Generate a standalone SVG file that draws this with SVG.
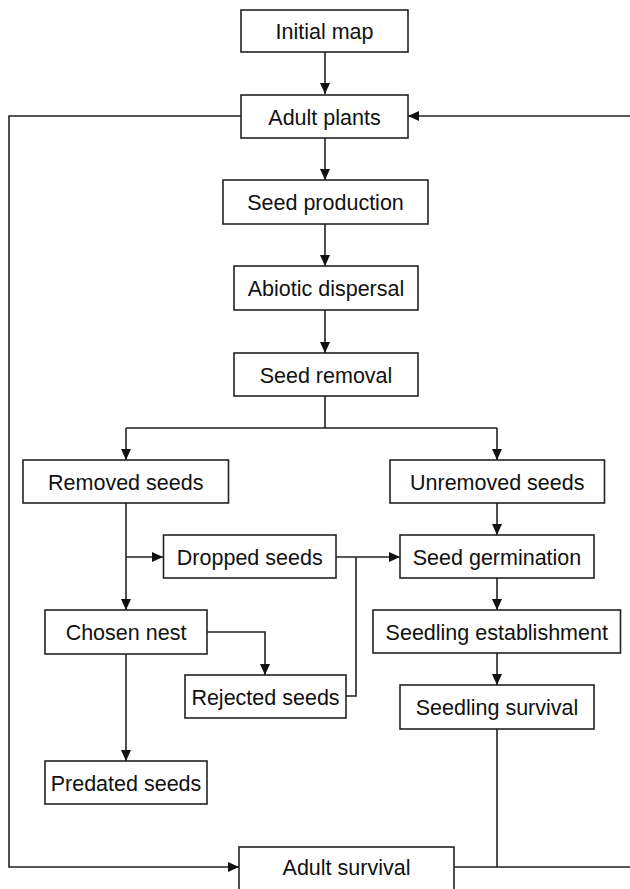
<svg xmlns="http://www.w3.org/2000/svg" width="630" height="889" viewBox="0 0 630 889">
<style>
.box{fill:#fff;stroke:#222;stroke-width:1.6}
.lbl{font-family:"Liberation Sans",Arial,sans-serif;font-size:21.5px;fill:#111;text-anchor:middle}
.con{fill:none;stroke:#222;stroke-width:1.6}
</style>
<defs>
<marker id="ah" markerUnits="userSpaceOnUse" markerWidth="12" markerHeight="11" refX="11" refY="5" orient="auto">
<path d="M0,0 L11,5 L0,10 z" fill="#111"/>
</marker>
</defs>
<rect width="630" height="889" fill="#fff"/>
<g id="connectors">
<path class="con" d="M325,52 V94" marker-end="url(#ah)"/>
<path class="con" d="M325,138 V180" marker-end="url(#ah)"/>
<path class="con" d="M325,224 V266" marker-end="url(#ah)"/>
<path class="con" d="M325,310 V353" marker-end="url(#ah)"/>
<path class="con" d="M325,396 V428 M126,428 H497"/>
<path class="con" d="M126,428 V460" marker-end="url(#ah)"/>
<path class="con" d="M497,428 V460" marker-end="url(#ah)"/>
<path class="con" d="M126,503 V610" marker-end="url(#ah)"/>
<path class="con" d="M126,557 H163" marker-end="url(#ah)"/>
<path class="con" d="M336,557 H400" marker-end="url(#ah)"/>
<path class="con" d="M346,696 H356 V557"/>
<path class="con" d="M497,503 V535" marker-end="url(#ah)"/>
<path class="con" d="M497,578 V610" marker-end="url(#ah)"/>
<path class="con" d="M497,653 V685" marker-end="url(#ah)"/>
<path class="con" d="M207,632 H265 V675" marker-end="url(#ah)"/>
<path class="con" d="M126,654 V761" marker-end="url(#ah)"/>
<path class="con" d="M241,116 H9 V867 H239" marker-end="url(#ah)"/>
<path class="con" d="M497,729 V867 M454,867 H631"/>
<path class="con" d="M631,116 H408" marker-end="url(#ah)"/>
</g>
<g id="initial-map"><rect class="box" x="241" y="10" width="167" height="42"/><text class="lbl" x="324.5" y="39">Initial map</text></g>
<g id="adult-plants"><rect class="box" x="241" y="95" width="167" height="43"/><text class="lbl" x="324.5" y="124.5">Adult plants</text></g>
<g id="seed-production"><rect class="box" x="223" y="180" width="205" height="44"/><text class="lbl" x="325.5" y="210">Seed production</text></g>
<g id="abiotic-dispersal"><rect class="box" x="234" y="266" width="184" height="44"/><text class="lbl" x="326" y="296">Abiotic dispersal</text></g>
<g id="seed-removal"><rect class="box" x="234" y="353" width="184" height="43"/><text class="lbl" x="326" y="382.5">Seed removal</text></g>
<g id="removed-seeds"><rect class="box" x="23" y="460" width="205.5" height="43"/><text class="lbl" x="125.75" y="489.5">Removed seeds</text></g>
<g id="unremoved-seeds"><rect class="box" x="390" y="460" width="214.5" height="43"/><text class="lbl" x="497.25" y="489.5">Unremoved seeds</text></g>
<g id="dropped-seeds"><rect class="box" x="163.5" y="535" width="172.5" height="43"/><text class="lbl" x="249.75" y="564.5">Dropped seeds</text></g>
<g id="seed-germination"><rect class="box" x="400" y="535" width="194" height="43"/><text class="lbl" x="497" y="564.5">Seed germination</text></g>
<g id="chosen-nest"><rect class="box" x="45" y="610" width="162" height="44"/><text class="lbl" x="126" y="640">Chosen nest</text></g>
<g id="seedling-establishment"><rect class="box" x="373" y="610" width="247.5" height="43"/><text class="lbl" x="496.75" y="639.5">Seedling establishment</text></g>
<g id="rejected-seeds"><rect class="box" x="185" y="675" width="161" height="43"/><text class="lbl" x="265.5" y="704.5">Rejected seeds</text></g>
<g id="seedling-survival"><rect class="box" x="400" y="685" width="194" height="44"/><text class="lbl" x="497" y="715">Seedling survival</text></g>
<g id="predated-seeds"><rect class="box" x="45" y="761" width="162" height="43"/><text class="lbl" x="126" y="790.5">Predated seeds</text></g>
<g id="adult-survival"><rect class="box" x="239" y="847" width="215" height="50"/><text class="lbl" x="346.5" y="875">Adult survival</text></g>
</svg>
